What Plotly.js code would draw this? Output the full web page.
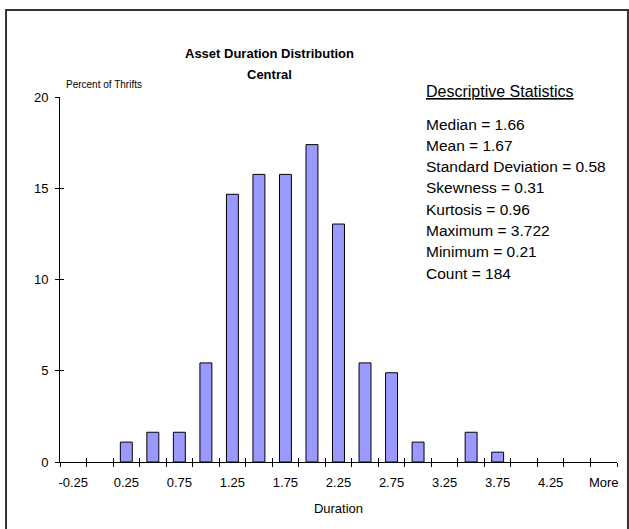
<!DOCTYPE html>
<html>
<head>
<meta charset="utf-8">
<script src="https://cdn.plot.ly/plotly-3.0.1.min.js"></script>
<style>html,body{margin:0;padding:0;background:#fff;}#chart{width:629px;height:529px;}</style>
</head>
<body>
<div id="chart"></div>
<script>
// ---- data ----
var categories = ['-0.25','0','0.25','0.5','0.75','1','1.25','1.5','1.75','2','2.25','2.5','2.75','3','3.25','3.5','3.75','4','4.25','4.5','More'];
var percentOfThrifts = [0,0,1.09,1.63,1.63,5.43,14.67,15.76,15.76,17.39,13.04,5.43,4.89,1.09,0,1.63,0.54,0,0,0,0];
var tickLabels = ['-0.25','0.25','0.75','1.25','1.75','2.25','2.75','3.25','3.75','4.25','More'];
var yTicks = [0,5,10,15,20];
var statLabels = ['Median','Mean','Standard Deviation','Skewness','Kurtosis','Maximum','Minimum','Count'];
var statValues = ['1.66','1.67','0.58','0.31','0.96','3.722','0.21','184'];
var chartTitle = 'Asset Duration Distribution';
var chartSubtitle = 'Central';
var yTitle = 'Percent of Thrifts';
var xTitle = 'Duration';
var statsHeading = 'Descriptive Statistics';

var FONT = 'Arial, "Liberation Sans", sans-serif';
var nCat = categories.length;
var xr = [-0.5, nCat - 0.5];

var trace = {
  type: 'bar',
  x: categories,
  y: percentOfThrifts,
  marker: {color: '#9999ff', line: {color: '#000', width: percentOfThrifts.map(function (v) { return v > 0 ? 1 : 0; })}},
  hoverinfo: 'x+y'
};
// helper traces so the overlay tick axes get drawn
function tickHolder(xa, ya) {
  return {type: 'scatter', mode: 'markers', x: [null], y: [null], xaxis: xa, yaxis: ya, hoverinfo: 'skip', showlegend: false};
}

var annotations = [
  {text: '<b>' + chartTitle + '</b>', xref: 'paper', yref: 'paper', x: 0.377, y: 1.1205, xanchor: 'center', yanchor: 'middle', showarrow: false, font: {family: FONT, size: 13, color: '#000'}},
  {text: '<b>' + chartSubtitle + '</b>', xref: 'paper', yref: 'paper', x: 0.377, y: 1.063, xanchor: 'center', yanchor: 'middle', showarrow: false, font: {family: FONT, size: 13, color: '#000'}},
  {text: yTitle, xref: 'paper', yref: 'paper', x: 0.007, y: 1.0356, xanchor: 'left', yanchor: 'middle', showarrow: false, font: {family: FONT, size: 10, color: '#000'}},
  {text: '<u>' + statsHeading + '</u>', xref: 'paper', yref: 'paper', x: 0.6535, y: 1.0137, xanchor: 'left', yanchor: 'middle', showarrow: false, font: {family: FONT, size: 16, color: '#000'}}
];
var statTop = (462 - 124) / 365;
var statStep = 21.3 / 365;
statLabels.forEach(function (lab, i) {
  annotations.push({text: lab + ' = ' + statValues[i], xref: 'paper', yref: 'paper', x: 0.6535, y: statTop - i * statStep, xanchor: 'left', yanchor: 'middle', showarrow: false, font: {family: FONT, size: 15.5, color: '#000'}});
});

var layout = {
  width: 629, height: 529,
  margin: {l: 60, r: 12, t: 97, b: 67, pad: 0},
  paper_bgcolor: '#fff', plot_bgcolor: '#fff',
  showlegend: false,
  bargap: 0.55,
  font: {family: FONT, size: 13, color: '#000'},
  xaxis: {
    type: 'category', categoryorder: 'array', categoryarray: categories,
    range: xr, tickmode: 'array', tickvals: tickLabels, ticktext: tickLabels,
    ticks: '', showline: true, linecolor: '#000', linewidth: 1,
    showgrid: false, zeroline: false, ticklabelstandoff: 8,
    tickfont: {family: FONT, size: 13, color: '#000'},
    title: {text: xTitle, font: {family: FONT, size: 13, color: '#000'}, standoff: 15},
    fixedrange: true
  },
  xaxis2: {
    overlaying: 'x', anchor: 'y', range: xr, tickmode: 'linear', tick0: -0.5, dtick: 1,
    ticks: 'outside', ticklen: 4, tickcolor: '#000', tickwidth: 1,
    showticklabels: false, showline: false, showgrid: false, zeroline: false
  },
  xaxis3: {
    overlaying: 'x', anchor: 'y', range: xr, tickmode: 'linear', tick0: -0.5, dtick: 1,
    ticks: 'inside', ticklen: 4, tickcolor: '#000', tickwidth: 1,
    showticklabels: false, showline: false, showgrid: false, zeroline: false
  },
  yaxis: {
    range: [0, 20], tickmode: 'array', tickvals: yTicks,
    ticks: 'outside', ticklen: 4, tickcolor: '#000', tickwidth: 1,
    showline: true, linecolor: '#000', linewidth: 1, showgrid: false, zeroline: false,
    ticklabelstandoff: 4, tickfont: {family: FONT, size: 13, color: '#000'}, fixedrange: true
  },
  yaxis2: {
    overlaying: 'y', anchor: 'x', side: 'left', range: [0, 20], tickmode: 'array', tickvals: yTicks,
    ticks: 'inside', ticklen: 4, tickcolor: '#000', tickwidth: 1,
    showticklabels: false, showline: false, showgrid: false, zeroline: false
  },
  annotations: annotations,
  shapes: [
    {type: 'rect', xref: 'paper', yref: 'paper', x0: -0.0969, x1: 1.0197, y0: -0.3, y1: 1.2384, line: {color: '#333', width: 2}, fillcolor: 'rgba(0,0,0,0)', layer: 'below'}
  ]
};

Plotly.newPlot('chart', [trace, tickHolder('x2', 'y'), tickHolder('x3', 'y'), tickHolder('x', 'y2')], layout, {displayModeBar: false, staticPlot: true});
</script>
</body>
</html>
